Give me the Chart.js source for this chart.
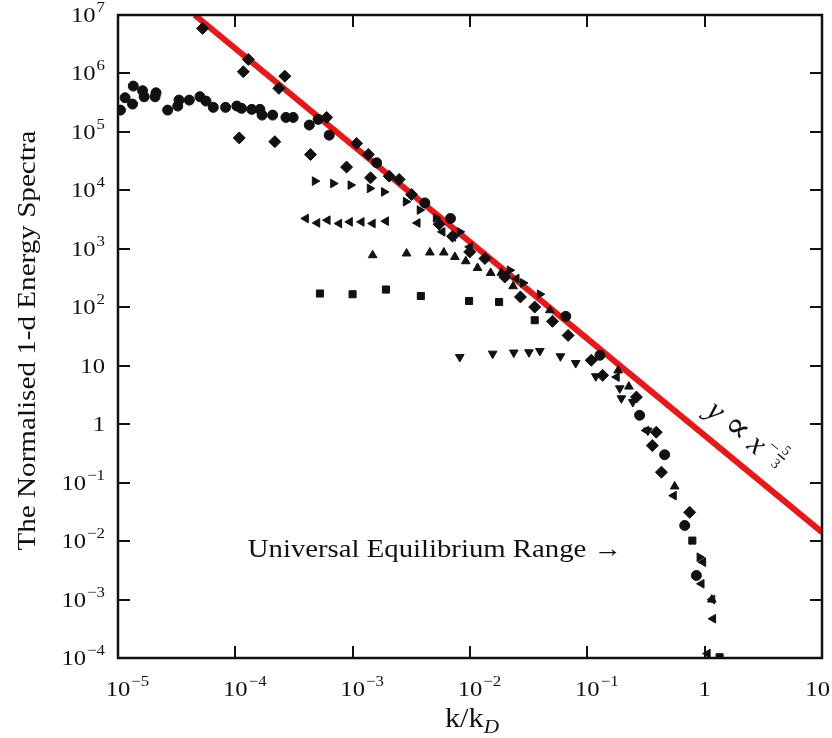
<!DOCTYPE html>
<html>
<head>
<meta charset="utf-8">
<title>Normalised 1-d energy spectra</title>
<script src="https://cdn.jsdelivr.net/npm/chart.js@4.4.0/dist/chart.umd.min.js"></script>
<style>
    html, body { margin: 0; padding: 0; background: #fff; }
    #wrap { width: 832px; height: 738px; }
</style>
</head>
<body>
<div id="wrap"><canvas id="spectraChart" width="832" height="738"></canvas></div>
<script>
// k/kD (x) and normalised spectrum (y), one pair of arrays per marker
const circleK = [1.05e-5, 1.15e-5, 1.33e-5, 1.35e-5, 1.62e-5, 1.67e-5, 2.11e-5, 2.07e-5, 2.65e-5, 3.23e-5, 3.31e-5, 4.05e-5,
    4.99e-5, 5.62e-5, 6.49e-5, 8.26e-5, 1.03e-4, 1.13e-4, 1.38e-4, 1.62e-4, 1.69e-4, 2.08e-4, 2.70e-4, 3.11e-4,
    4.27e-4, 5.08e-4, 6.31e-4, 1.60e-3, 4.12e-3, 6.82e-3, 6.55e-2, 0.128, 0.279, 0.456, 0.676, 0.85];
const circleE = [2.36e5, 3.84e5, 2.99e5, 6.08e5, 5.06e5, 3.99e5, 4.67e5, 3.99e5, 2.36e5, 2.77e5, 3.5e5, 3.5e5,
    4.0e5, 3.37e5, 2.63e5, 2.63e5, 2.77e5, 2.53e5, 2.43e5, 2.43e5, 1.94e5, 1.94e5, 1.77e5, 1.77e5,
    1.31e5, 1.64e5, 8.8e4, 2.96e4, 6.1e3, 3.3e3, 70, 15.1, 1.42, 0.30, 0.0185, 2.58e-3];

const diamondHighK = [5.26e-5, 1.29e-4, 1.17e-4, 2.64e-4, 2.35e-4, 6.0e-4, 1.08e-3, 1.36e-3, 2.05e-3, 2.49e-3, 3.18e-3];
const diamondHighE = [5.9e6, 1.74e6, 1.07e6, 9.0e5, 5.56e5, 1.77e5, 6.36e4, 4.12e4, 1.75e4, 1.54e4, 8.5e3];

const diamondLowK = [1.08e-4, 2.17e-4, 4.37e-4, 8.87e-4, 1.42e-3, 5.46e-3, 7.1e-3, 9.95e-3, 1.34e-2, 1.98e-2, 2.69e-2,
    3.56e-2, 5.05e-2, 6.86e-2, 0.108, 0.135, 0.262, 0.358, 0.387, 0.428, 0.745];
const diamondLowE = [7.9e4, 6.8e4, 4.1e4, 2.5e4, 1.64e4, 2.64e3, 1.64e3, 885, 682, 330, 150,
    101, 57.5, 33, 12.4, 6.85, 2.91, 0.43, 0.73, 0.151, 0.031];

const triRightK = [4.76e-4, 6.82e-4, 9.6e-4, 1.40e-3, 1.85e-3, 2.84e-3, 3.73e-3, 5.12e-3, 8.18e-3, 2.18e-2, 2.83e-2, 3.94e-2, 0.905];
const triRightE = [1.44e4, 1.31e4, 1.23e4, 1.08e4, 9.4e3, 6.4e3, 4.6e3, 3.4e3, 1.95e3, 430, 261, 167, 5.3e-3];

const triLeftK = [3.99e-4, 4.99e-4, 6.11e-4, 7.67e-4, 9.46e-4, 1.19e-3, 1.48e-3, 1.92e-3, 3.57e-3, 5.82e-3, 7.18e-3,
    9.95e-3, 2.05e-2, 2.49e-2, 0.178, 0.318, 0.545, 0.97, 0.94, 1.16, 1.18, 1.06];
const triLeftE = [3.3e3, 2.77e3, 3.09e3, 2.71e3, 2.89e3, 2.89e3, 2.71e3, 2.97e3, 2.77e3, 1.95e3, 1.6e3,
    1.08e3, 378, 310, 6.4, 0.78, 0.060, 4.36e-3, 1.86e-3, 1e-3, 4.7e-4, 1.19e-4];

const triUpK = [1.48e-3, 2.88e-3, 4.55e-3, 5.98e-3, 7.43e-3, 9.2e-3, 1.16e-2, 1.50e-2, 1.85e-2, 2.33e-2, 4.79e-2, 0.183, 0.226, 0.555, 1.15];
const triUpE = [777, 832, 865, 865, 727, 613, 471, 387, 390, 229, 89, 8.3, 4.4, 0.086, 1.0e-3];

const squareK = [5.26e-4, 9.98e-4, 1.92e-3, 3.81e-3, 9.82e-3, 1.77e-2, 3.56e-2, 0.785, 1.34];
const squareE = [172, 167, 201, 156, 128, 123, 60, 0.0102, 1.03e-4];

const triDownK = [8.18e-3, 1.56e-2, 2.36e-2, 3.18e-2, 3.94e-2, 5.9e-2, 7.96e-2, 0.118, 0.189, 0.195, 0.244, 0.327];
const triDownE = [14.1, 16.1, 16.8, 17.0, 17.9, 14.5, 11.1, 6.6, 4.1, 2.77, 2.39, 0.78];

// y ∝ x^(-5/3) guide line, end points
const fitLineK = [4.5e-5, 10];
const fitLineE = [1e7, 0.0142];

// decade exponents for the tick labels
const xTickExps = [-5, -4, -3, -2, -1, 0, 1];
const yTickExps = [7, 6, 5, 4, 3, 2, 1, 0, -1, -2, -3, -4];

const SERIF = '"Liberation Serif", "DejaVu Serif", serif';
const INK = '#111';
const STRETCH = 1.12; // the original serif font runs wider than Liberation

function pairs(ks, es) {
    return ks.map((k, i) => ({ x: k, y: es[i] }));
}

function markerSet(label, ks, es, style, radius, rotation) {
    return {
        label: label,
        data: pairs(ks, es),
        pointStyle: style,
        pointRadius: radius,
        pointRotation: rotation || 0,
        backgroundColor: INK,
        borderColor: INK,
        borderWidth: 1,
        showLine: false,
        order: 1
    };
}

// horizontal text, widened a little, anchored left at (x, y)
function wideText(ctx, txt, x, y) {
    ctx.save();
    ctx.translate(x, y);
    ctx.scale(STRETCH, 1);
    ctx.fillText(txt, 0, 0);
    ctx.restore();
}

// draws "10" with a superscript exponent (or 1 / 10 for e = 0 / 1)
// align 'center' puts the base number on the tick, 'right' ends the label at x
function powerLabel(ctx, e, x, y, align, maxRight) {
    let base = e === 0 ? '1' : '10';
    let sup = (e === 0 || e === 1) ? '' : (e < 0 ? '\u2212' + (-e) : String(e));
    ctx.font = '22px ' + SERIF;
    let wb = ctx.measureText(base).width * STRETCH;
    ctx.font = '15px ' + SERIF;
    let ws = sup ? ctx.measureText(sup).width * STRETCH + 1 : 0;
    let start = align === 'right' ? x - wb - ws : x - wb / 2;
    if (maxRight && start + wb + ws > maxRight) start = maxRight - wb - ws;
    ctx.textAlign = 'left';
    ctx.textBaseline = 'alphabetic';
    ctx.font = '22px ' + SERIF;
    wideText(ctx, base, start, y);
    if (sup) {
        ctx.font = '15px ' + SERIF;
        wideText(ctx, sup, start + wb + 1, y - 10);
    }
}

const framePlugin = {
    id: 'framePlugin',
    afterDraw(chart) {
        const ctx = chart.ctx;
        const a = chart.chartArea;
        const xs = chart.scales.x;
        const ys = chart.scales.y;
        ctx.save();
        ctx.fillStyle = INK;
        ctx.strokeStyle = INK;

        // inward ticks on all four sides
        ctx.lineWidth = 2;
        ctx.beginPath();
        xTickExps.forEach(e => {
            let px = Math.round(xs.getPixelForValue(Math.pow(10, e)));
            ctx.moveTo(px, a.bottom); ctx.lineTo(px, a.bottom - 12);
            ctx.moveTo(px, a.top); ctx.lineTo(px, a.top + 12);
        });
        yTickExps.forEach(e => {
            let py = Math.round(ys.getPixelForValue(Math.pow(10, e)));
            ctx.moveTo(a.left, py); ctx.lineTo(a.left + 12, py);
            ctx.moveTo(a.right, py); ctx.lineTo(a.right - 12, py);
        });
        ctx.stroke();

        // frame
        ctx.lineWidth = 2.5;
        ctx.strokeRect(a.left, a.top, a.right - a.left, a.bottom - a.top);

        // tick labels
        xTickExps.forEach(e => {
            powerLabel(ctx, e, xs.getPixelForValue(Math.pow(10, e)), a.bottom + 38, 'center', chart.width - 2);
        });
        yTickExps.forEach(e => {
            powerLabel(ctx, e, a.left - 13, ys.getPixelForValue(Math.pow(10, e)) + 7, 'right');
        });

        // y axis title
        ctx.textBaseline = 'alphabetic';
        ctx.font = '26px ' + SERIF;
        ctx.save();
        ctx.translate(35, (a.top + a.bottom) / 2 + 4);
        ctx.rotate(-Math.PI / 2);
        ctx.scale(STRETCH, 1);
        ctx.textAlign = 'center';
        ctx.fillText('The Normalised 1-d Energy Spectra', 0, 0);
        ctx.restore();

        // x axis title k/k_D
        let xc = (a.left + a.right) / 2 + 2;
        ctx.textAlign = 'left';
        ctx.font = '27px ' + SERIF;
        let wk = ctx.measureText('k/k').width * STRETCH;
        ctx.font = 'italic 19px ' + SERIF;
        let wd = ctx.measureText('D').width * STRETCH;
        let sx = xc - (wk + wd) / 2;
        ctx.font = '27px ' + SERIF;
        wideText(ctx, 'k/k', sx, 727);
        ctx.font = 'italic 19px ' + SERIF;
        wideText(ctx, 'D', sx + wk, 733);

        // range annotation
        ctx.font = '25px ' + SERIF;
        let note = 'Universal Equilibrium Range \u2192';
        let wn = ctx.measureText(note).width * 1.15;
        ctx.save();
        ctx.translate(435 - wn / 2, 557);
        ctx.scale(1.15, 1);
        ctx.fillText(note, 0, 0);
        ctx.restore();

        // power-law label, parallel to the guide line
        let p1x = xs.getPixelForValue(fitLineK[0]), p1y = ys.getPixelForValue(fitLineE[0]);
        let p2x = xs.getPixelForValue(fitLineK[1]), p2y = ys.getPixelForValue(fitLineE[1]);
        let ang = Math.atan2(p2y - p1y, p2x - p1x);
        let t = (694 - p1x) / (p2x - p1x);
        let bx = p1x + t * (p2x - p1x), by = p1y + t * (p2y - p1y);
        ctx.save();
        ctx.translate(bx + Math.sin(ang) * 17, by - Math.cos(ang) * 17);
        ctx.rotate(ang);
        ctx.textAlign = 'left';
        ctx.font = 'italic 31px ' + SERIF;
        ctx.fillText('y', 0, 0);
        let cx = ctx.measureText('y').width + 8;
        ctx.font = '36px "DejaVu Serif", serif';
        ctx.fillText('\u221D', cx, 1);
        cx += ctx.measureText('\u221D').width + 7;
        ctx.font = 'italic 31px ' + SERIF;
        ctx.fillText('x', cx, 0);
        cx += ctx.measureText('x').width + 3;
        ctx.font = '18px ' + SERIF;
        ctx.fillText('\u2212', cx, -13);
        cx += ctx.measureText('\u2212').width + 2;
        ctx.font = '14px ' + SERIF;
        ctx.fillText('5', cx + 1, -19);
        ctx.fillText('3', cx + 1, -2);
        ctx.fillRect(cx, -16, 9, 1.4);
        ctx.restore();

        ctx.restore();
    }
};

const ctx = document.getElementById('spectraChart').getContext('2d');

const chart = new Chart(ctx, {
    type: 'scatter',
    data: {
        datasets: [
            markerSet('circles', circleK, circleE, 'circle', 5),
            markerSet('diamonds (upper)', diamondHighK, diamondHighE, 'rectRot', 6),
            markerSet('diamonds (lower)', diamondLowK, diamondLowE, 'rectRot', 6),
            markerSet('right triangles', triRightK, triRightE, 'triangle', 5, 90),
            markerSet('left triangles', triLeftK, triLeftE, 'triangle', 5, 270),
            markerSet('up triangles', triUpK, triUpE, 'triangle', 5),
            markerSet('squares', squareK, squareE, 'rect', 5),
            markerSet('down triangles', triDownK, triDownE, 'triangle', 5, 180),
            {
                label: 'y \u221D x^-5/3',
                data: pairs(fitLineK, fitLineE),
                showLine: true,
                borderColor: 'rgb(236, 22, 22)',
                borderWidth: 6,
                pointRadius: 0,
                fill: false,
                order: 5
            }
        ]
    },
    options: {
        responsive: false,
        animation: false,
        maintainAspectRatio: false,
        layout: { padding: { left: 118, right: 10, top: 15, bottom: 80 } },
        plugins: {
            legend: { display: false },
            tooltip: { enabled: false }
        },
        scales: {
            x: { type: 'logarithmic', min: 1e-5, max: 10, display: false },
            y: { type: 'logarithmic', min: 1e-4, max: 1e7, display: false }
        }
    },
    plugins: [framePlugin]
});
</script>
</body>
</html>
